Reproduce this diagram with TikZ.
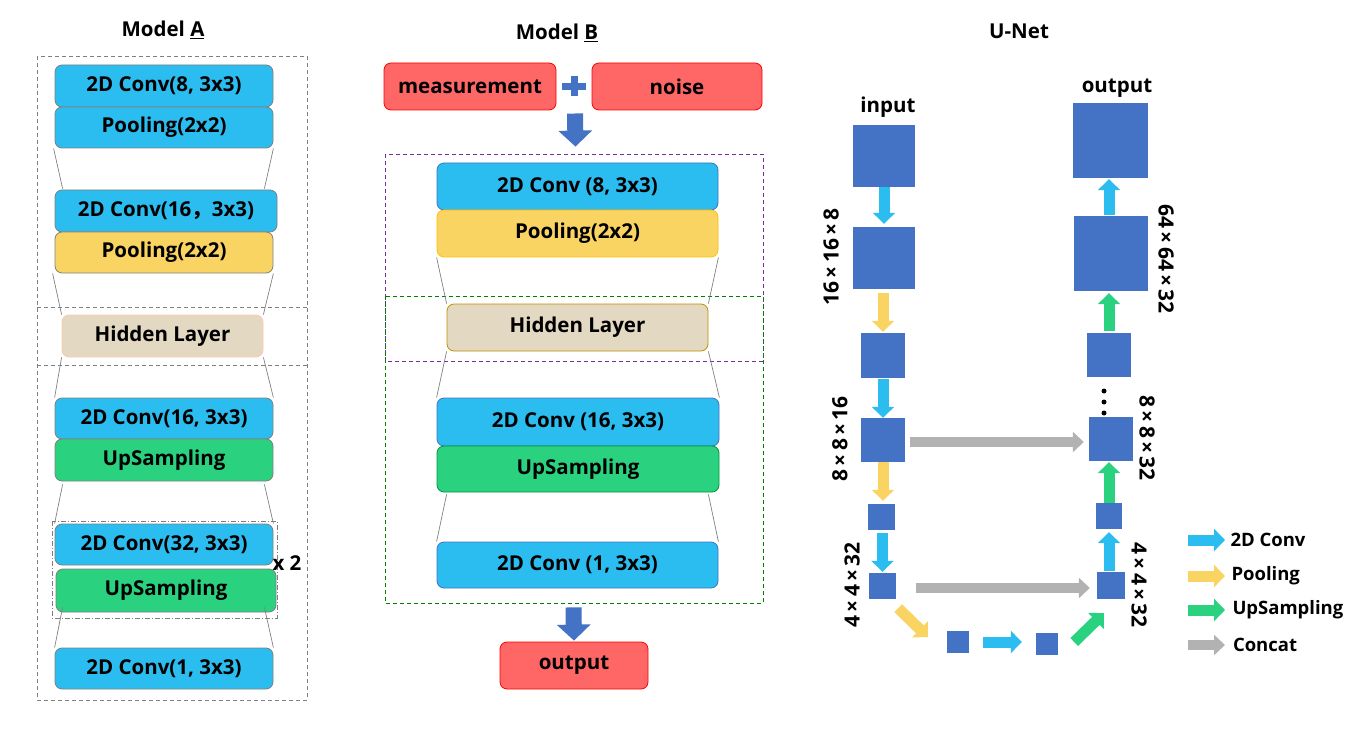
\documentclass[tikz,border=0pt]{standalone}
\usepackage{fontspec}
\setmainfont{Open Sans}
\newfontfamily\cjk{Noto Sans CJK SC}
\usetikzlibrary{arrows.meta,calc}

\definecolor{convblue}{RGB}{44,189,240}
\definecolor{poolyellow}{RGB}{250,212,98}
\definecolor{upgreen}{RGB}{42,210,128}
\definecolor{hidbeige}{RGB}{227,216,193}
\definecolor{redbox}{RGB}{255,102,102}
\definecolor{unetblue}{RGB}{68,114,196}
\definecolor{catgrey}{RGB}{178,178,178}
\definecolor{edgegrey}{RGB}{127,127,127}

\tikzset{
  layer/.style={rounded corners=7pt, draw=edgegrey, line width=0.8pt, inner sep=0pt,
    font=\bfseries\fontsize{20.5}{23}\selectfont},
  lbl/.style={font=\bfseries\fontsize{20.5}{23}\selectfont, inner sep=0pt},
  dims/.style={font=\bfseries\fontsize{21}{23}\selectfont, inner sep=0pt},
  legend/.style={font=\bfseries\fontsize{18.5}{21}\selectfont, inner sep=0pt, anchor=west},
  funnel/.style={draw=gray, line width=0.7pt},
  frame/.style={dashed, dash pattern=on 4pt off 3pt, line width=0.7pt},
  square/.style={fill=unetblue, inner sep=0pt},
  convarrow/.style={draw=convblue, line width=11pt, -{Triangle[width=22pt,length=11pt]}},
  poolarrow/.style={draw=poolyellow, line width=11pt, -{Triangle[width=22pt,length=11pt]}},
  uparrow/.style={draw=upgreen, line width=11pt, -{Triangle[width=22pt,length=11pt]}},
  catarrow/.style={draw=catgrey, line width=10pt, -{Triangle[width=20pt,length=11pt]}},
  bigarrow/.style={draw=unetblue, line width=16pt, -{Triangle[width=33pt,length=16pt]}}
}

\begin{document}
\begin{tikzpicture}[x=1pt, y=-1pt]
  \useasboundingbox (0,0) rectangle (1347,730);

  % Model A
  \node[lbl] (titleA) at (163,30) {Model \underline{A}};
  \draw[frame, edgegrey] (37,56) rectangle (307,700);
  \draw[frame, edgegrey] (37,307) -- (307,307);
  \draw[frame, edgegrey] (37,365) -- (307,365);
  \draw[edgegrey, line width=0.7pt, dash pattern=on 5pt off 2pt on 1pt off 2pt] (52,521) rectangle (277,618);

  \node[layer, fill=convblue, minimum width=218pt, minimum height=42pt] (a1) at (164,86) {2D Conv(8, 3x3)};
  \node[layer, fill=convblue, minimum width=218pt, minimum height=41pt] (a2) at (164,127.5) {Pooling(2x2)};
  \node[layer, fill=convblue, minimum width=222pt, minimum height=42pt] (a3) at (166,211) {2D Conv(16{\cjk ，}3x3)};
  \node[layer, fill=poolyellow, minimum width=218pt, minimum height=41pt] (a4) at (164,252.5) {Pooling(2x2)};
  \node[layer, fill=hidbeige, draw={rgb,255:red,248;green,203;blue,173}, minimum width=201pt, minimum height=42pt] (hidA) at (162.5,336) {Hidden Layer};
  \node[layer, fill=convblue, minimum width=218pt, minimum height=41pt] (a5) at (164,418.5) {2D Conv(16, 3x3)};
  \node[layer, fill=upgreen, minimum width=218pt, minimum height=42pt] (a6) at (164,460) {UpSampling};
  \node[layer, fill=convblue, minimum width=218pt, minimum height=41pt] (a7) at (164,544.5) {2D Conv(32, 3x3)};
  \node[layer, fill=upgreen, minimum width=220pt, minimum height=43pt] (a8) at (166,590.5) {UpSampling};
  \node[layer, fill=convblue, minimum width=218pt, minimum height=41pt] (a9) at (164,668.5) {2D Conv(1, 3x3)};
  \node[lbl] (times) at (287,563) {x 2};

  \draw[funnel] ([shift={(-1,0)}]a2.south west) -- ([shift={(8,-1)}]a3.north west);
  \draw[funnel] (a2.south east) -- ([shift={(-13,-1)}]a3.north east);
  \draw[funnel] ([shift={(-2,0)}]a4.south west) -- (hidA.north west);
  \draw[funnel] (a4.south east) -- (hidA.north east);
  \draw[funnel] (hidA.south west) -- (a5.north west);
  \draw[funnel] (hidA.south east) -- (a5.north east);
  \draw[funnel] ([shift={(8,3)}]a6.south west) -- (a7.north west);
  \draw[funnel] ([shift={(-9,3)}]a6.south east) -- (a7.north east);
  \draw[funnel] ([shift={(7,-5)}]a8.south west) -- (a9.north west);
  \draw[funnel] ([shift={(-12,-5)}]a8.south east) -- (a9.north east);

  % Model B
  \node[lbl] (titleB) at (557,33) {Model \underline{B}};
  \node[layer, fill=redbox, draw=red, minimum width=172pt, minimum height=47pt] (meas) at (470,86.5) {measurement};
  \node[layer, fill=redbox, draw=red, minimum width=170pt, minimum height=47pt] (noise) at (677,86.5) {noise};
  \coordinate (plus) at ($(meas.east)!0.5!(noise.west)$);
  \draw[unetblue, line width=7pt] ([shift={(-12,0)}]plus) -- ([shift={(12,0)}]plus);
  \draw[unetblue, line width=7pt] ([shift={(0,-10)}]plus) -- ([shift={(0,10)}]plus);

  \draw[frame, draw={rgb,255:red,112;green,48;blue,160}] (385,154) rectangle (763,361);
  \draw[frame, draw={rgb,255:red,0;green,128;blue,0}] (385,296) rectangle (763,603);

  \node[layer, fill=convblue, draw=unetblue, minimum width=281pt, minimum height=47pt] (b1) at (577.5,186.5) {2D Conv (8, 3x3)};
  \node[layer, fill=poolyellow, draw={rgb,255:red,255;green,192;blue,0}, minimum width=281pt, minimum height=47pt] (b2) at (577.5,233.5) {Pooling(2x2)};
  \node[layer, fill=hidbeige, draw={rgb,255:red,191;green,144;blue,0}, minimum width=261pt, minimum height=47pt] (hidB) at (577.5,327.5) {Hidden Layer};
  \node[layer, fill=convblue, draw=unetblue, minimum width=282pt, minimum height=48pt] (b3) at (578,422) {2D Conv (16, 3x3)};
  \node[layer, fill=upgreen, draw={rgb,255:red,0;green,150;blue,60}, minimum width=282pt, minimum height=46pt] (b4) at (578,469) {UpSampling};
  \node[layer, fill=convblue, draw=unetblue, minimum width=281pt, minimum height=46pt] (b5) at (577.5,565) {2D Conv (1, 3x3)};
  \node[layer, fill=redbox, draw=red, minimum width=148pt, minimum height=47pt] (outB) at (574,665.5) {output};

  \draw[bigarrow] ([shift={(1,27)}]plus) -- ([shift={(-2,-16)}]b1.north);
  \draw[bigarrow] ([shift={(-4,19)}]b5.south) -- ([shift={(0,-1)}]outB.north);

  \draw[funnel] (b2.south west) -- (hidB.north west);
  \draw[funnel] (b2.south east) -- (hidB.north east);
  \draw[funnel] (hidB.south west) -- (b3.north west);
  \draw[funnel] (hidB.south east) -- (b3.north east);
  \draw[funnel] ([shift={(10,2)}]b4.south west) -- (b5.north west);
  \draw[funnel] ([shift={(-11,2)}]b4.south east) -- (b5.north east);

  % U-Net
  \node[lbl] (titleU) at (1019,31) {U-Net};
  \node[square, minimum width=62pt, minimum height=62pt] (uin) at (884,156) {};
  \node[square, minimum width=62pt, minimum height=62pt] (d1) at (884,258) {};
  \node[square, minimum width=44pt, minimum height=45pt] (d2) at (883,355.5) {};
  \node[square, minimum width=44pt, minimum height=44pt] (d3) at (883,440) {};
  \node[square, minimum width=27pt, minimum height=26pt] (d4) at (881.5,517) {};
  \node[square, minimum width=27pt, minimum height=26pt] (d5) at (882.5,586) {};
  \node[square, minimum width=22pt, minimum height=22pt] (m1) at (958,642) {};
  \node[square, minimum width=22pt, minimum height=22pt] (m2) at (1047,644) {};
  \node[square, minimum width=28pt, minimum height=27pt] (e5) at (1111,585.5) {};
  \node[square, minimum width=26pt, minimum height=26pt] (e4) at (1109,516) {};
  \node[square, minimum width=44pt, minimum height=44pt] (e3) at (1111,439) {};
  \node[square, minimum width=44pt, minimum height=44pt] (e2) at (1109,355) {};
  \node[square, minimum width=74pt, minimum height=75pt] (e1) at (1111,253.5) {};
  \node[square, minimum width=75pt, minimum height=75pt] (uout) at (1110.5,140.5) {};

  \node[lbl] (inlbl) at (888,107) {input};
  \node[lbl] (outlbl) at (1117,88) {output};
  \node[dims, rotate=90] (s1) at (831,257) {16\,×\,16\,×\,8};
  \node[dims, rotate=90] (s2) at (840,439) {8\,×\,8\,×\,16};
  \node[dims, rotate=90] (s3) at (852,585) {4\,×\,4\,×\,32};
  \node[dims, rotate=-90] (s4) at (1139,585) {4\,×\,4\,×\,32};
  \node[dims, rotate=-90] (s5) at (1147,438) {8\,×\,8\,×\,32};
  \node[dims, rotate=-90] (s6) at (1166,259) {64\,×\,64\,×\,32};
  \fill (1104,391) circle (2.5pt) (1104,402) circle (2.5pt) (1104,413) circle (2.5pt);

  \draw[convarrow, shorten >=3pt] (uin.south -| d1.north) -- (d1.north);
  \draw[poolarrow, shorten <=4pt, shorten >=1pt] (d2.north |- d1.south) -- (d2.north);
  \draw[convarrow, shorten <=1pt] (d2.south) -- (d3.north);
  \draw[poolarrow] (d3.south) -- ([shift={(0,-3)}]d4.north -| d3.south);
  \draw[convarrow, shorten <=3pt, shorten >=1pt] (d4.south -| d5.north) -- (d5.north);
  \draw[poolarrow] ([shift={(2,9)}]d5.south east) -- ([shift={(-19,-5)}]m1.west);
  \draw[convarrow, shorten <=14pt, shorten >=14pt] (m1.east) -- (m2.west |- m1.east);
  \draw[uparrow] ([shift={(16,-2)}]m2.east) -- ([shift={(7,14)}]e5.south west);
  \draw[convarrow, shorten <=1pt, shorten >=3pt] (e5.north -| e4.north) -- (e4.south);
  \draw[uparrow, shorten >=1pt] (e4.north) -- (e4.north |- e3.south);
  \draw[uparrow, shorten <=2pt, shorten >=2pt] (e2.north) -- (e2.north |- e1.south);
  \draw[convarrow, shorten <=1pt, shorten >=1pt] (e1.north -| e2.north) -- (e2.north |- uout.south);
  \draw[catarrow, shorten <=5pt, shorten >=5pt] (d3.east |- 0,442) -- (e3.west |- 0,442);
  \draw[catarrow, shorten <=20pt, shorten >=7pt] (d5.east |- 0,588) -- (e5.west |- 0,588);

  % legend
  \draw[convarrow] (1188,540) -- (1225,540) node[legend, right=0pt] (lg1) {2D Conv};
  \draw[poolarrow] (1188,576) -- (1225,576) node[legend, right=1pt] (lg2) {Pooling};
  \draw[uparrow] (1188,610) -- (1225,610) node[legend, right=2pt] (lg3) {UpSampling};
  \draw[catarrow] (1188,645) -- (1225,645) node[legend, right=3pt] (lg4) {Concat};
\end{tikzpicture}
\end{document}
